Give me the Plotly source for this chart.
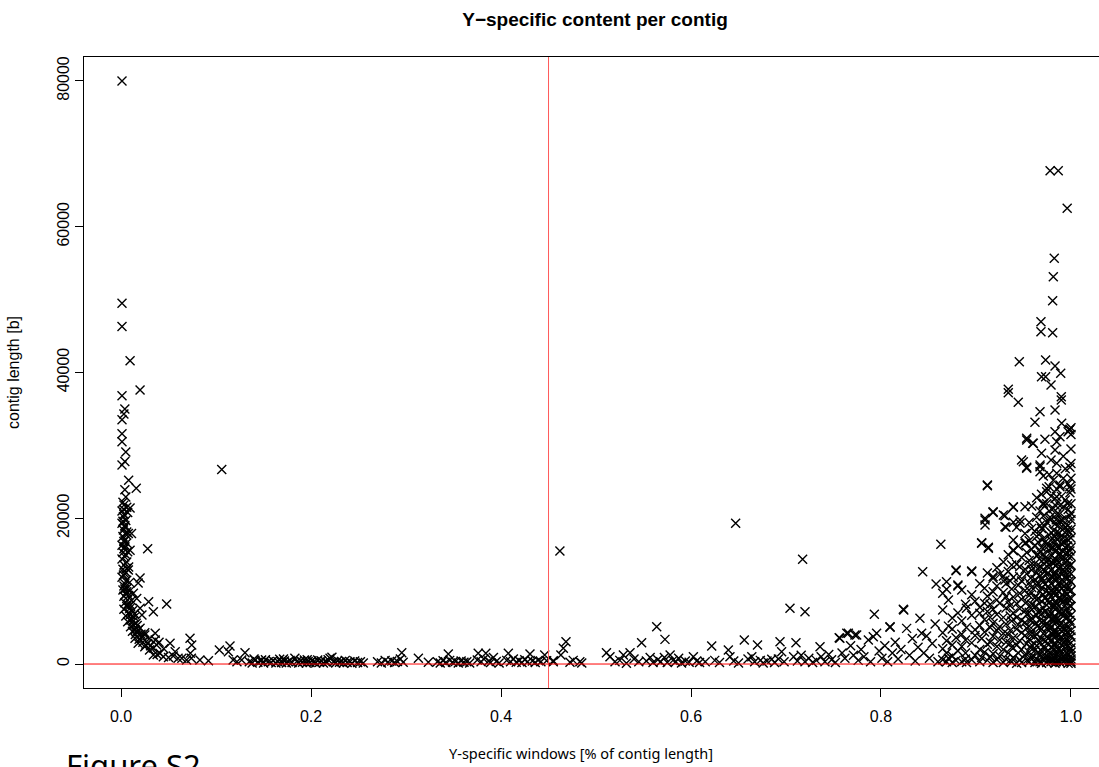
import plotly.graph_objects as go

# Steep arm on the left: short Y-specific fraction, long contigs
left_arm = [
    (0.001, 80000), (0.001, 49500), (0.001, 46300), (0.0095, 41600), (0.020, 37600),
    (0.001, 36800), (0.004, 35000), (0.003, 34300), (0.001, 33500), (0.001, 31600),
    (0.001, 30500), (0.005, 29100), (0.004, 27800), (0.001, 27300), (0.008, 25200),
    (0.016, 24100), (0.004, 23900), (0.005, 22900), (0.002, 22200), (0.003, 21800),
    (0.006, 21500), (0.0095, 21400), (0.001, 21000), (0.003, 20500), (0.0025, 20200),
    (0.005, 19700), (0.001, 19300), (0.004, 18800), (0.0025, 18400), (0.0077, 17900),
    (0.011, 17900), (0.002, 17500), (0.004, 17000), (0.006, 16600), (0.001, 16300),
    (0.004, 16100), (0.0095, 15600), (0.028, 15800), (0.002, 15300), (0.005, 15000),
    (0.004, 14700), (0.001, 14400), (0.006, 14000), (0.003, 13600), (0.008, 13300),
    (0.002, 13000), (0.0077, 12900), (0.005, 12600), (0.0025, 12200), (0.001, 11900),
    (0.020, 11800), (0.006, 11500), (0.018, 11100), (0.004, 11000), (0.003, 10700),
    (0.0065, 10400), (0.002, 10150), (0.009, 10000), (0.013, 9700), (0.005, 9600),
    (0.003, 9300), (0.0165, 9000), (0.007, 8800), (0.029, 8550), (0.004, 8400),
    (0.048, 8230), (0.010, 8100), (0.006, 7900), (0.020, 7640), (0.003, 7500),
    (0.012, 7300), (0.034, 7180), (0.008, 7000), (0.022, 6720), (0.005, 6600),
    (0.014, 6400), (0.0095, 6040), (0.007, 5800), (0.016, 5600), (0.013, 5350),
    (0.010, 5100), (0.020, 4900), (0.018, 4660), (0.012, 4500), (0.025, 4300),
    (0.036, 4210), (0.015, 4050), (0.025, 3980), (0.0147, 3520), (0.022, 3700),
    (0.030, 3500), (0.036, 3290), (0.018, 2840), (0.040, 3000), (0.0516, 2840),
    (0.026, 2600), (0.0375, 2610), (0.025, 2380), (0.034, 2200), (0.045, 2100),
    (0.030, 1920), (0.057, 1690), (0.041, 1470), (0.038, 1300), (0.034, 1230),
    (0.0445, 1000), (0.050, 900), (0.055, 1100), (0.060, 800), (0.064, 780),
    (0.069, 550), (0.0726, 3520), (0.0744, 2610), (0.073, 1470), (0.074, 780),
    (0.083, 550), (0.092, 450), (0.1035, 1920), (0.1147, 2470), (0.113, 1690),
    (0.1305, 1550), (0.118, 550), (0.122, 320), (0.127, 550), (0.106, 26700),
    (0.003, 21200), (0.007, 20800), (0.004, 19000), (0.006, 18100), (0.003, 16800),
    (0.007, 15400), (0.004, 12400), (0.009, 11200), (0.006, 9900), (0.011, 8700),
    (0.009, 7600), (0.014, 6900), (0.011, 6200), (0.017, 5300), (0.015, 4700),
    (0.021, 4100), (0.019, 3400), (0.023, 3000), (0.028, 2800), (0.031, 2500),
    (0.002, 19600), (0.005, 17800), (0.003, 15800), (0.006, 13100), (0.004, 10300),
    (0.008, 9400), (0.007, 8200), (0.010, 6800), (0.013, 5900), (0.016, 4400),
]

# Low band of short contigs between 0.13 and 0.26
floor_band = [
    (0.135, 300), (0.138, 150), (0.141, 500), (0.144, 250), (0.147, 400), (0.150, 150),
    (0.152, 600), (0.155, 300), (0.158, 200), (0.160, 450), (0.163, 150), (0.165, 350),
    (0.167, 640), (0.169, 200), (0.172, 400), (0.174, 150), (0.176, 300), (0.178, 500),
    (0.180, 200), (0.183, 780), (0.185, 350), (0.187, 150), (0.189, 450), (0.191, 250),
    (0.193, 550), (0.195, 150), (0.197, 350), (0.199, 200), (0.201, 450), (0.203, 300),
    (0.205, 150), (0.207, 550), (0.209, 250), (0.211, 400), (0.213, 150), (0.215, 350),
    (0.217, 250), (0.220, 780), (0.222, 920), (0.224, 300), (0.226, 150), (0.228, 450),
    (0.230, 250), (0.232, 350), (0.234, 150), (0.236, 500), (0.238, 200), (0.241, 300),
    (0.243, 100), (0.246, 400), (0.249, 200), (0.252, 320), (0.255, 150), (0.140, 700),
    (0.148, 550), (0.171, 700), (0.196, 600), (0.218, 600),
]

# Middle section, 0.27 to 0.56
middle_band = [
    (0.270, 300), (0.274, 150), (0.278, 500), (0.281, 250), (0.285, 400), (0.288, 200),
    (0.291, 350), (0.2955, 1550), (0.294, 700), (0.297, 250), (0.313, 780), (0.3235, 250),
    (0.333, 300), (0.336, 150), (0.339, 450), (0.342, 200), (0.3445, 1370), (0.346, 500),
    (0.349, 250), (0.352, 350), (0.355, 150), (0.358, 400), (0.361, 250), (0.364, 300),
    (0.367, 150), (0.375, 550), (0.376, 1470), (0.379, 300), (0.382, 700), (0.384, 1470),
    (0.387, 400), (0.389, 200), (0.392, 900), (0.395, 350), (0.398, 150), (0.406, 500),
    (0.4077, 1470), (0.410, 300), (0.413, 700), (0.416, 250), (0.419, 450), (0.422, 200),
    (0.425, 600), (0.428, 300), (0.4305, 1370), (0.433, 400), (0.436, 200), (0.439, 500),
    (0.442, 300), (0.446, 1230), (0.448, 450), (0.455, 450), (0.462, 15500), (0.4684, 3060),
    (0.4656, 2150), (0.463, 1230), (0.455, 320), (0.4726, 230), (0.476, 500), (0.483, 320),
    (0.485, 150), (0.511, 1550), (0.5147, 1000), (0.520, 320), (0.5288, 1230), (0.5358, 1550),
    (0.532, 100), (0.525, 500), (0.548, 2930), (0.540, 700), (0.545, 300), (0.5639, 5120),
    (0.5726, 3380), (0.553, 400), (0.557, 900), (0.560, 200),
]

# Rising section, 0.56 to 0.86
rising_band = [
    (0.565, 600), (0.568, 300), (0.572, 900), (0.575, 200), (0.578, 1230), (0.581, 500),
    (0.584, 300), (0.587, 800), (0.590, 150), (0.594, 400), (0.598, 250), (0.6025, 1000),
    (0.606, 400), (0.609, 200), (0.6218, 2470), (0.615, 300), (0.625, 500), (0.630, 200),
    (0.6393, 1920), (0.641, 1000), (0.645, 400), (0.647, 19300), (0.650, 150), (0.6561, 3290),
    (0.660, 700), (0.664, 1000), (0.667, 300), (0.670, 2610), (0.673, 500), (0.676, 150),
    (0.680, 400), (0.685, 640), (0.688, 200), (0.6937, 3060), (0.6954, 1690), (0.692, 700),
    (0.698, 300), (0.7042, 7640), (0.7105, 2930), (0.7175, 14360), (0.720, 7180), (0.708, 1000),
    (0.712, 400), (0.716, 1200), (0.720, 300), (0.724, 800), (0.728, 200), (0.7358, 2380),
    (0.737, 1000), (0.732, 500), (0.741, 300), (0.745, 1300), (0.748, 600), (0.752, 200),
    (0.756, 3610), (0.7567, 3520), (0.759, 1500), (0.762, 800), (0.764, 4210), (0.7656, 4210),
    (0.768, 2500), (0.771, 1200), (0.7744, 3980), (0.7726, 3980), (0.776, 500), (0.779, 2000),
    (0.782, 1000), (0.7867, 3290), (0.7919, 3750), (0.789, 300), (0.793, 6820), (0.7954, 4210),
    (0.798, 1800), (0.801, 800), (0.804, 2500), (0.807, 300), (0.8095, 5030), (0.8095, 5120),
    (0.812, 1500), (0.815, 3000), (0.818, 700), (0.821, 2000), (0.8235, 7500), (0.824, 7410),
    (0.827, 4890), (0.830, 1200), (0.833, 3500), (0.836, 400), (0.839, 2300), (0.841, 6270),
    (0.8428, 4210), (0.8439, 12660), (0.845, 1500), (0.848, 3840), (0.851, 800), (0.854, 2800),
    (0.857, 5500), (0.858, 10980), (0.860, 300), (0.863, 16420),
]

# Mostly Y-specific contigs, listed per x position: (fraction, [lengths])
right_columns = [
    (0.865, [600, 2100, 4300, 7400, 9700]),
    (0.869, [300, 1500, 3200, 10250, 11290]),
    (0.871, [800, 5200, 8780]),
    (0.875, [200, 1100, 2600, 4800, 6300]),
    (0.879, [12800, 12900, 500, 3600]),
    (0.881, [10700, 10840, 1800, 7000]),
    (0.885, [10150, 300, 2400, 4100, 5900]),
    (0.889, [700, 1500, 3300, 8200]),
    (0.890, [7640, 200, 5000]),
    (0.8955, [12660, 12760, 600, 2900, 6700, 9500]),
    (0.899, [1200, 3900, 4700, 8600]),
    (0.904, [6950, 300, 2000, 5300, 7800, 11000]),
    (0.906, [16560, 16650, 900, 3500]),
    (0.909, [8330, 1600, 4400, 6100, 10400]),
    (0.9095, [19760, 19070, 19990]),
    (0.912, [24460, 24560, 500, 2700, 7200, 9300, 12500]),
    (0.913, [16010, 15880]),
    (0.915, [1000, 3000, 5000, 6400, 8200]),
    (0.918, [11980, 11750, 9920, 20800, 20900, 200, 1400, 3800, 5600, 7500]),
    (0.922, [600, 2400, 4600, 6800, 8800, 10700, 13200]),
    (0.925, [8330, 1100, 3300, 5100, 12300]),
    (0.9288, [20440, 12070, 200, 2000, 4200, 6400, 9800, 14000]),
    (0.9316, [18750, 9230, 700, 3000, 5500, 7700, 11000]),
    (0.9305, [18840, 20350, 11520]),
    (0.934, [37690, 37230, 1500, 4000, 8600, 12700, 15000]),
    (0.936, [500, 2800, 4600, 6600, 8000, 11400]),
    (0.9376, [13580, 300, 2300, 5900, 10300]),
    (0.9393, [21500, 21580, 19440, 15640, 15550, 900, 3600, 7000, 9200, 11900, 17000]),
    (0.9428, [18750, 100, 2600, 4800, 6400, 8300, 13700]),
    (0.9445, [35900, 1500, 5400, 10800, 16200]),
    (0.9456, [41470]),
    (0.946, [13350, 600, 3200, 7600, 9700, 12000]),
    (0.9463, [19760, 19300]),
    (0.948, [27990, 200, 2000, 4300, 6000, 8900, 11400, 14600]),
    (0.9498, [27760]),
    (0.9516, [21580, 16560, 1200, 3900, 5700, 7300, 10100, 13000, 17900]),
    (0.9526, [16650]),
    (0.9534, [26850, 26990, 30970, 30730, 500, 2800, 4900, 6800, 8500, 12400, 15300]),
    (0.956, [300, 1600, 3400, 5200, 7100, 9400, 11100, 14200, 16900, 19400]),
    (0.9575, [800, 2200, 4000, 5900, 7700, 9900, 11800, 13600]),
    (0.9586, [21680, 18610, 1000, 2600, 4500, 6300, 8200, 10500, 12900, 15700]),
    (0.9597, [30280]),
    (0.9603, [30280]),
    (0.9621, [33160, 200, 1900, 3800, 5500, 7900, 9100, 11600, 13800, 16300, 18200]),
    (0.9639, [20130, 700, 2500, 4100, 6700, 8800, 10800, 12500, 14900, 17500, 22800]),
    (0.9655, [400, 1600, 3300, 5300, 7100, 9000, 11000, 13000, 15000, 16700]),
    (0.9674, [34620, 27300, 27070, 26390, 17930, 300, 1300, 3000, 5000, 6000, 7400,
              9900, 12100, 13400, 15400, 19000, 21000]),
    (0.9684, [46960, 45590]),
    (0.969, [39410, 28910, 100, 1800, 3500, 4800, 6900, 8600, 10400, 11800, 14100,
             16000, 18600, 23300]),
    (0.9709, [22050, 21900, 600, 2300, 4200, 5900, 7700, 9500, 11300, 13000, 15100,
              17200, 20300, 25800]),
    (0.9726, [30830, 1000, 3100, 5300, 7200, 9000, 10900, 12700, 14500, 16700, 18900]),
    (0.9733, [41710, 39410]),
    (0.9744, [24100, 23640, 200, 1600, 3700, 5600, 8100, 10100, 12300, 14000, 16400,
              19500, 22000]),
    (0.976, [400, 1900, 3500, 5100, 6900, 8800, 10600, 12500, 14300, 16200]),
    (0.977, [24320, 800, 2700, 4600, 6500, 8400, 9800, 11600, 13600, 15600, 17700,
             21000, 26000]),
    (0.978, [67680, 19760, 20130]),
    (0.979, [38280, 300, 1400, 3300, 5100, 7000, 9300, 11000, 12900, 15000, 17000,
             23000, 28000]),
    (0.9795, [700, 2300, 4200, 6100, 8000, 10000, 12000, 14000, 16000, 18000]),
    (0.9807, [49850, 45450]),
    (0.9814, [53140, 21350, 600, 2000, 4000, 6000, 7800, 9700, 11900, 13800, 16000,
              18300, 25200]),
    (0.9824, [55660, 900, 2500, 4400, 6300, 8100, 10100, 12200, 14100, 17500]),
    (0.9832, [40880, 34850, 31870, 29360, 21810, 100, 1200, 2900, 4700, 6600, 8500,
              10600, 12600, 14400, 16800, 19200, 22700]),
    (0.9845, [300, 1800, 3800, 5700, 7600, 9500, 11500, 13500, 15500, 17300, 19800]),
    (0.985, [30500, 27530, 26160, 22950, 500, 2400, 4300, 6200, 8200, 10200, 12000,
             14200, 16100, 18100, 20500, 24000]),
    (0.9866, [67680, 1100, 3100, 5000, 7100, 9000, 11000, 13100, 15000, 19000]),
    (0.9875, [400, 2000, 4000, 6000, 8000, 10000, 12000, 14000, 16000, 18000, 20500]),
    (0.9884, [31190, 24320, 24560, 200, 1700, 3600, 5400, 7300, 9100, 11200, 13300,
              15200, 17400, 19600, 21700]),
    (0.9892, [39880]),
    (0.9898, [36680, 36220]),
    (0.990, [19760, 800, 2600, 4500, 6800, 8700, 10400, 12300, 14600, 16500, 23000]),
    (0.9902, [33020]),
    (0.9919, [21580, 300, 1500, 3400, 5200, 7200, 9300, 11400, 13000, 15400, 17300,
              19100, 25500, 28500]),
    (0.9925, [1000, 2800, 4700, 6700, 8600, 10600, 12600, 14600, 16600, 18600]),
    (0.994, [600, 2200, 4100, 6300, 8000, 9900, 12000, 13900, 16000, 18000, 20000,
             22500, 26800]),
    (0.9955, [1500, 3400, 5400, 7500, 9500, 11600, 13400, 15300, 17200]),
    (0.996, [62530]),
    (0.9965, [500, 2500, 4400, 6400, 8400, 10300, 12300, 14200, 16200, 18400, 22000]),
    (0.997, [31870, 24780, 100, 1300, 3000, 4900, 7000, 8900, 10700, 12800, 14800,
             17000, 19000, 21200]),
    (0.9982, [32100]),
    (0.9989, [32200, 24320, 500, 2000, 4000, 6000, 8000, 10000, 11500, 13500, 15500,
              18000, 20300, 23500, 27000]),
    (1.000, [20680, 100, 300, 700, 1100, 1600, 2200, 2900, 3700, 4600, 5600, 6700,
             7900, 9000, 10100, 11300, 12400, 13600, 14800, 16000, 17300, 18500,
             19800, 22000, 24000, 25500, 27500, 29500, 31500, 32400]),
]

x_ticks = [0.0, 0.2, 0.4, 0.6, 0.8, 1.0]
x_tick_text = ["0.0", "0.2", "0.4", "0.6", "0.8", "1.0"]
y_ticks = [0, 20000, 40000, 60000, 80000]
y_tick_text = ["0", "20000", "40000", "60000", "80000"]
cutoff_fraction = 0.45

xs, ys = [], []
for group in (left_arm, floor_band, middle_band, rising_band):
    for fx, ln in group:
        xs.append(fx)
        ys.append(ln)
for fx, lengths in right_columns:
    for ln in lengths:
        xs.append(fx)
        ys.append(ln)

fig = go.Figure()
fig.add_trace(go.Scatter(
    x=xs, y=ys, mode="markers",
    marker=dict(symbol="x-thin", size=9, line=dict(width=1.4, color="black"), color="black"),
    hoverinfo="x+y", showlegend=False,
))

# Reference lines: cutoff at 0.45 and the zero baseline
fig.add_shape(type="line", xref="x", yref="paper", x0=cutoff_fraction, x1=cutoff_fraction,
              y0=0, y1=1, line=dict(color="#ff5a5a", width=1))
fig.add_shape(type="line", xref="paper", yref="y", x0=0, x1=1, y0=0, y1=0,
              line=dict(color="#ff0000", width=1))

sans = "Liberation Sans, Arial, sans-serif"
tick_font = dict(family=sans, size=16, color="black")

fig.update_layout(
    width=1099, height=767,
    margin=dict(l=84, r=0, t=57, b=79),
    paper_bgcolor="white", plot_bgcolor="white",
    title=dict(text="<b>Y\u2212specific content per contig</b>", x=(595 / 1099), xanchor="center",
               y=1 - 19 / 767, yanchor="middle",
               font=dict(family=sans, size=19, color="black")),
    xaxis=dict(range=[-0.039, 1.0295], tickvals=x_ticks, ticktext=x_tick_text,
               ticks="outside", ticklen=8, tickwidth=1, tickcolor="black",
               showline=True, linecolor="black", linewidth=1, mirror=True,
               showgrid=False, zeroline=False, tickfont=tick_font, ticklabelstandoff=6),
    yaxis=dict(range=[-3290, 83280], tickvals=y_ticks, ticktext=y_tick_text,
               ticks="outside", ticklen=8, tickwidth=1, tickcolor="black",
               showline=True, linecolor="black", linewidth=1, mirror=False,
               showgrid=False, zeroline=False, tickangle=-90, tickfont=tick_font,
               title=dict(text="contig length [b]", standoff=30,
                          font=dict(family=sans, size=16, color="black"))),
    annotations=[
        dict(text="Y-specific windows [% of contig length]", xref="paper", yref="paper",
             x=(581 - 84) / 1015, y=(688 - 753) / 631, xanchor="center", yanchor="middle",
             showarrow=False,
             font=dict(family="Liberation Sans Narrow, Noto Sans, sans-serif", size=14.5,
                       color="black")),
        dict(text="Figure S2", xref="paper", yref="paper",
             x=(64 - 84) / 1015, y=(688 - 742) / 631, xanchor="left", yanchor="top",
             showarrow=False,
             font=dict(family="Liberation Sans Narrow, Noto Sans, sans-serif", size=31,
                       color="black")),
    ],
)

fig.write_html("out.html")
